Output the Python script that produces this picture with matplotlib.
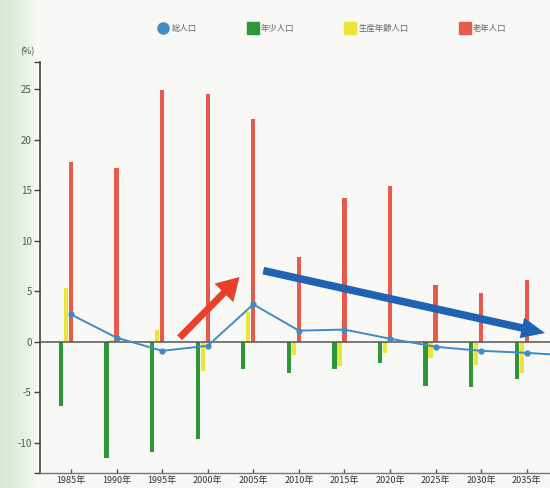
import matplotlib
matplotlib.use("Agg")
import matplotlib.pyplot as plt
import numpy as np
from matplotlib.lines import Line2D

plt.rcParams['font.family'] = ['Noto Sans CJK JP', 'DejaVu Sans']

# data (percent change over 5 years)
years = [1985, 1990, 1995, 2000, 2005, 2010, 2015, 2020, 2025, 2030, 2035]
year_labels = [f"{y}年" for y in years]
total = [2.7, 0.4, -0.9, -0.4, 3.7, 1.1, 1.2, 0.3, -0.5, -0.9, -1.1]
total_years_ext = [2040]
total_ext = [-1.4]
young = [-6.4, -11.5, -10.9, -9.6, -2.7, -3.1, -2.7, -2.1, -4.4, -4.5, -3.7]
working = [5.3, 0.2, 1.2, -2.9, 2.9, -1.3, -2.4, -1.1, -1.6, -2.3, -3.1]
old = [17.8, 17.2, 24.9, 24.5, 22.1, 8.4, 14.2, 15.4, 5.6, 4.8, 6.1]
series_names = ["総人口", "年少人口", "生産年齢人口", "老年人口"]

c_total = "#3f8cc4"
c_young = "#2e9838"
c_work = "#ece43a"
c_old = "#e85a4c"

fig = plt.figure(figsize=(5.5, 4.88), dpi=100)
fig.patch.set_facecolor("#f8faf7")

# greenish paper strip on the left
bg = fig.add_axes([0, 0, 1, 1], zorder=-5)
grad = np.ones((10, 550, 3))
fade = np.clip(np.linspace(0, 1, 550) * 550 / 38, 0, 1) ** 1.5
start = np.array([0.84, 0.92, 0.83])
end = np.array([0.973, 0.98, 0.968])
grad[:] = start + (end - start) * fade[:, None]
bg.imshow(grad, aspect="auto", extent=[0, 1, 0, 1])
bg.axis("off")

ax = fig.add_axes([40 / 550, 15 / 488, 1 - 40 / 550, (473 - 62) / 488])
ax.set_facecolor("none")

x = np.array(years, dtype=float)
w = 0.48
ax.bar(x - 1.1, young, width=w, color=c_young, zorder=3)
ax.bar(x - 0.55, working, width=w, color=c_work, zorder=2)
ax.bar(x, old, width=w, color=c_old, zorder=3)
ax.axhline(0, color="#555555", linewidth=1.1, zorder=4)
ax.plot(list(x) + total_years_ext, total + total_ext, color=c_total,
        linewidth=1.4, marker="o", markersize=3.5, zorder=5, clip_on=True)

# hand-drawn trend arrows
ax.annotate("", xy=(2003.7, 6.6), xytext=(1996.7, 0.2),
            arrowprops=dict(arrowstyle="simple,head_width=1.9,head_length=1.6,tail_width=0.5",
                            color="#e8402a", lw=0), zorder=6)
ax.annotate("", xy=(2037.3, 0.8), xytext=(2005.8, 7.1),
            arrowprops=dict(arrowstyle="simple,head_width=1.5,head_length=1.7,tail_width=0.55",
                            color="#2063b4", lw=0), zorder=6)

ax.set_xlim(1981.6, 2037.55)
ax.set_ylim(-13, 27.7)
ax.set_xticks(years)
ax.set_xticklabels(year_labels, fontsize=6.5, color="#333333")
ax.set_yticks([-10, -5, 0, 5, 10, 15, 20, 25])
ax.set_yticklabels(["-10", "-5", "0", "5", "10", "15", "20", "25"], fontsize=7, color="#555555")
ax.set_yticks([-13, 27.7], minor=True)
ax.tick_params(axis="y", which="both", direction="out", length=4, width=1, color="#444444", pad=2)
ax.tick_params(axis="x", direction="in", length=3, width=1, color="#555555", pad=2)
for s in ["top", "right"]:
    ax.spines[s].set_visible(False)
ax.spines["left"].set_color("#444444")
ax.spines["left"].set_linewidth(1.2)
ax.spines["bottom"].set_color("#777777")
ax.spines["bottom"].set_linewidth(1.0)

fig.text(20 / 550, 1 - 52 / 488, "(%)", fontsize=6.5, color="#444444", ha="left", va="center")

handles = [
    Line2D([], [], marker="o", linestyle="none", markersize=8, color=c_total),
    Line2D([], [], marker="s", linestyle="none", markersize=8, color=c_young),
    Line2D([], [], marker="s", linestyle="none", markersize=8, color=c_work),
    Line2D([], [], marker="s", linestyle="none", markersize=8, color=c_old),
]
fig.legend(handles, series_names, loc="center", bbox_to_anchor=(0.605, 1 - 28 / 488),
           ncol=4, frameon=False, fontsize=6, labelcolor="#666666",
           handletextpad=0.5, columnspacing=6.2, handlelength=1.0)

fig.savefig("out.png", dpi=100, facecolor=fig.get_facecolor())
